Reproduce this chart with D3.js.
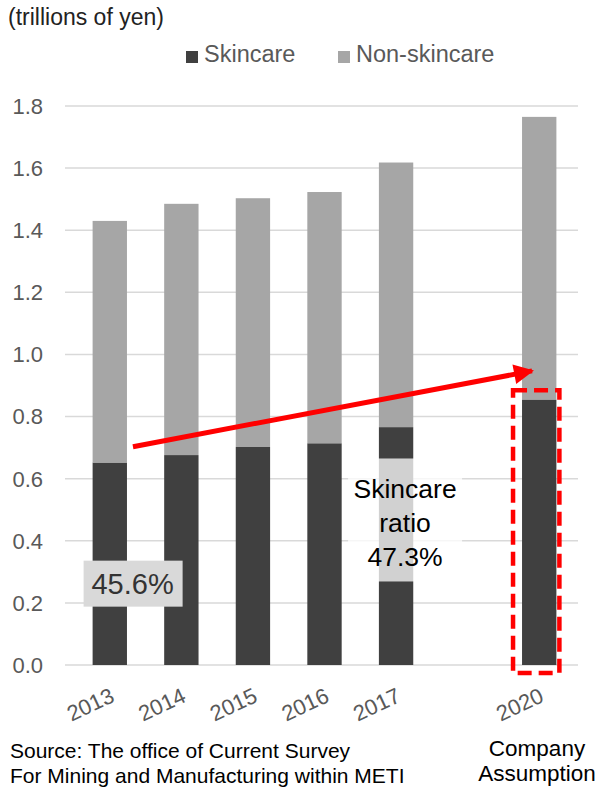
<!DOCTYPE html>
<html>
<head>
<meta charset="utf-8">
<script src="https://cdn.jsdelivr.net/npm/d3@7"></script>
<style>
  body { margin: 0; background: #fff; }
  svg { display: block; font-family: 'Liberation Sans', Arial, sans-serif; }
</style>
</head>
<body>
<svg id="chart" width="602" height="789"></svg>
<script>
// categories, with an empty slot between 2017 and 2020
const categories = ['2013', '2014', '2015', '2016', '2017', '', '2020']
const years = ['2013', '2014', '2015', '2016', '2017', '2020']
const skincare = [0.652, 0.676, 0.702, 0.714, 0.766, 0.855]
const totals = [1.43, 1.485, 1.503, 1.523, 1.618, 1.765]
const yTicks = [0, 0.2, 0.4, 0.6, 0.8, 1.0, 1.2, 1.4, 1.6, 1.8]
const seriesNames = ['Skincare', 'Non-skincare']
const colors = ['#404040', '#a6a6a6']

const svg = d3.select('#chart')

const x = d3.scaleBand()
  .domain(categories)
  .range([74, 575])
  .paddingInner(0.52)
  .paddingOuter(0.26)

const y = d3.scaleLinear()
  .domain([0, 1.8])
  .range([665, 106])

// gridlines
svg.append('g')
  .selectAll('line')
  .data(yTicks)
  .join('line')
  .attr('x1', 65)
  .attr('x2', 578)
  .attr('y1', d => y(d))
  .attr('y2', d => y(d))
  .attr('stroke', '#d9d9d9')
  .attr('stroke-width', 1.5)

// y axis labels
svg.append('g')
  .selectAll('text')
  .data(yTicks)
  .join('text')
  .attr('x', 43)
  .attr('y', d => y(d))
  .attr('dy', '0.36em')
  .attr('text-anchor', 'end')
  .attr('font-size', 22)
  .attr('fill', '#595959')
  .text(d => d.toFixed(1))

// stacked bars
const rows = years.map((year, i) => ({ year, skin: skincare[i], non: totals[i] - skincare[i] }))
const stacked = d3.stack().keys(['skin', 'non'])(rows)

svg.append('g')
  .selectAll('g')
  .data(stacked)
  .join('g')
  .attr('fill', (d, i) => colors[i])
  .selectAll('rect')
  .data(d => d)
  .join('rect')
  .attr('x', d => x(d.data.year))
  .attr('width', x.bandwidth())
  .attr('y', d => y(d[1]))
  .attr('height', d => y(d[0]) - y(d[1]))

// x axis labels, rotated
svg.append('g')
  .selectAll('text')
  .data(years)
  .join('text')
  .attr('transform', d => `translate(${x(d) + x.bandwidth() / 2 + 6}, 701) rotate(-25)`)
  .attr('text-anchor', 'end')
  .attr('font-size', 22)
  .attr('fill', '#595959')
  .text(d => d)

// legend
const legend = svg.append('g')
  .selectAll('g')
  .data(seriesNames)
  .join('g')
  .attr('transform', (d, i) => `translate(${[186, 338][i]}, 51)`)
legend.append('rect')
  .attr('width', 12)
  .attr('height', 12)
  .attr('fill', (d, i) => colors[i])
legend.append('text')
  .attr('x', 18)
  .attr('y', 11)
  .attr('font-size', 23.5)
  .attr('fill', '#595959')
  .text(d => d)

// unit label
svg.append('text')
  .attr('x', 8)
  .attr('y', 25)
  .attr('font-size', 23)
  .attr('fill', '#222')
  .text('(trillions of yen)')

// 45.6% label box on 2013 bar
const x2013 = x('2013')
svg.append('rect')
  .attr('x', x2013 - 9)
  .attr('y', y(0.336))
  .attr('width', 99)
  .attr('height', 46)
  .attr('fill', '#d9d9d9')
svg.append('text')
  .attr('x', x2013 + 40)
  .attr('y', y(0.336) + 23)
  .attr('dy', '0.36em')
  .attr('text-anchor', 'middle')
  .attr('font-size', 29)
  .attr('fill', '#333')
  .text('45.6%')

// skincare ratio box on 2017 bar
const c2017 = x('2017') + x.bandwidth() / 2
svg.append('rect')
  .attr('x', c2017 - 48)
  .attr('y', y(0.665))
  .attr('width', 114)
  .attr('height', 123)
  .attr('fill', '#fff')
  .attr('opacity', 0.76)
svg.append('text')
  .attr('text-anchor', 'middle')
  .attr('font-size', 26.5)
  .attr('fill', '#000')
  .selectAll('tspan')
  .data(['Skincare', 'ratio', '47.3%'])
  .join('tspan')
  .attr('x', c2017 + 9)
  .attr('y', (d, i) => 498 + i * 34)
  .text(d => d)

// dashed box around 2020 bar
const x2020 = x('2020')
svg.append('rect')
  .attr('x', x2020 - 9)
  .attr('y', y(0.885))
  .attr('width', x.bandwidth() + 12)
  .attr('height', y(-0.026) - y(0.885))
  .attr('fill', 'none')
  .attr('stroke', '#ff0000')
  .attr('stroke-width', 4.5)
  .attr('stroke-dasharray', '14 7')

// red arrow
svg.append('defs')
  .append('marker')
  .attr('id', 'arrow')
  .attr('viewBox', '0 0 10 10')
  .attr('refX', 9)
  .attr('refY', 5)
  .attr('markerWidth', 5.5)
  .attr('markerHeight', 4)
  .attr('markerUnits', 'strokeWidth')
  .attr('orient', 'auto')
  .append('path')
  .attr('d', 'M0,0 L10,5 L0,10 Z')
  .attr('fill', '#ff0000')

svg.append('line')
  .attr('x1', x2013 + x.bandwidth() + 6)
  .attr('y1', y(0.703))
  .attr('x2', x2020 + 10)
  .attr('y2', y(0.947))
  .attr('stroke', '#ff0000')
  .attr('stroke-width', 5)
  .attr('marker-end', 'url(#arrow)')

// footnotes
svg.append('text')
  .attr('font-size', 21)
  .attr('fill', '#000')
  .selectAll('tspan')
  .data(['Source: The office of Current Survey', 'For Mining and Manufacturing within METI'])
  .join('tspan')
  .attr('x', 10)
  .attr('y', (d, i) => 758 + i * 25)
  .text(d => d)

svg.append('text')
  .attr('font-size', 22.5)
  .attr('fill', '#000')
  .attr('text-anchor', 'middle')
  .selectAll('tspan')
  .data(['Company', 'Assumption'])
  .join('tspan')
  .attr('x', 537)
  .attr('y', (d, i) => 756 + i * 25)
  .text(d => d)
</script>
</body>
</html>
